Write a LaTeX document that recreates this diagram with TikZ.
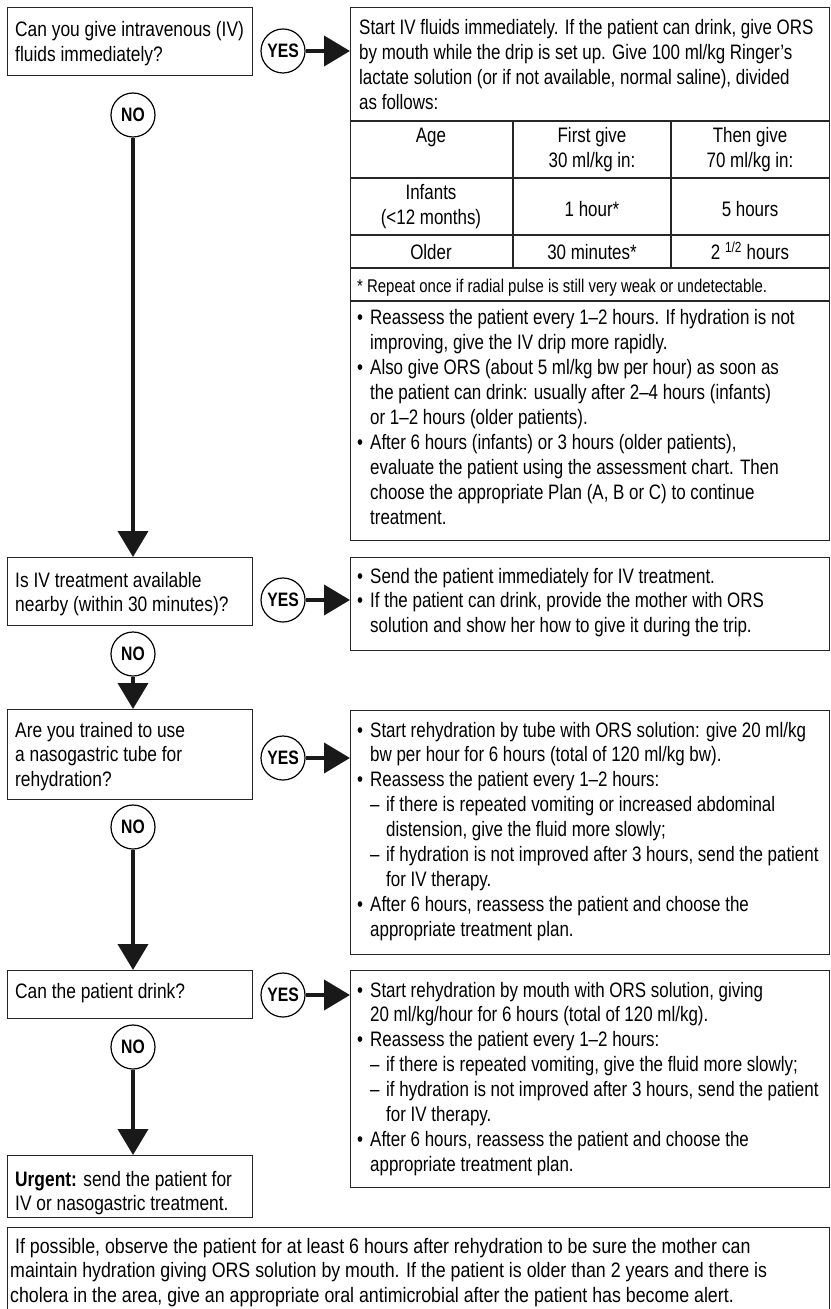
\documentclass[tikz,border=0pt]{standalone}
\usepackage{fontspec}
\setmainfont{Liberation Sans}[FakeStretch=0.81]
\newfontfamily\widefnt{Liberation Sans}[FakeStretch=0.85]
\newfontfamily\leftfnt{Liberation Sans}[FakeStretch=0.83]
\usetikzlibrary{arrows.meta}
\newcommand\mainfnt{\fontsize{21}{25}\selectfont}
\newcommand\smallfnt{\fontsize{18.5}{22}\selectfont}
\newcommand\ynfnt{\fontsize{19.5}{20}\selectfont\bfseries}
\newcommand\mlines[2][l]{\begin{tabular}[t]{@{}#1@{}}#2\end{tabular}}
\newcommand\mybul{\makebox[13bp][l]{•}}
\newcommand\myind{\hspace*{13bp}}
\newcommand\mydsh{\hspace*{13bp}\makebox[16bp][l]{--}}
\newcommand\mydind{\hspace*{29bp}}
\tikzset{
  box/.style={draw=black!85, line width=1.3bp, inner sep=0pt, anchor=north west},
  txt/.style={inner sep=0pt, anchor=base west, font=\mainfnt},
  wtxt/.style={inner sep=0pt, anchor=base west, font=\widefnt\mainfnt},
  ltxt/.style={inner sep=0pt, anchor=base west, font=\leftfnt\mainfnt},
  ctxt/.style={inner sep=0pt, anchor=base, font=\mainfnt},
  yn/.style={circle, draw=black, line width=1.2bp, minimum size=44bp, inner sep=0pt, font=\ynfnt},
  arr/.style={line width=4bp, draw=black!90, -{Triangle[length=26bp,width=30bp]}},
  rule/.style={draw=black!85, line width=1.3bp},
}
\begin{document}
\begin{tikzpicture}[x=1bp,y=-1bp]
\useasboundingbox (0,0) rectangle (830,1309);
% boxes
\node[box, minimum width=245bp, minimum height=68bp] (q1) at (7,7) {};
\node[box, minimum width=245bp, minimum height=68bp] (q2) at (7,557) {};
\node[box, minimum width=245bp, minimum height=90bp] (q3) at (7,709) {};
\node[box, minimum width=245bp, minimum height=48bp] (q4) at (7,970) {};
\node[box, minimum width=245bp, minimum height=62bp] (u) at (7,1155) {};
\node[box, minimum width=479bp, minimum height=533bp] (a1) at (350,7) {};
\node[box, minimum width=479bp, minimum height=93bp] (a2) at (350,557) {};
\node[box, minimum width=479bp, minimum height=244bp] (a3) at (350,710) {};
\node[box, minimum width=479bp, minimum height=217bp] (a4) at (350,970) {};
\node[box, minimum width=822bp, minimum height=90bp] (fin) at (7,1227) {};
% table rules
\foreach \yy in {121,178,235,268,301} \draw[rule] (350,\yy) -- (829,\yy);
\foreach \xx in {513,671} \draw[rule] (\xx,121) -- (\xx,268);
% circles
\node[yn] (y1) at (283,51) {YES};
\node[yn] (y2) at (283,600) {YES};
\node[yn] (y3) at (283,758) {YES};
\node[yn] (y4) at (283,995) {YES};
\node[yn] (n1) at (133,115) {NO};
\node[yn] (n2) at (133,654) {NO};
\node[yn] (n3) at (133,827) {NO};
\node[yn] (n4) at (133,1047) {NO};
% arrows
\draw[arr] (y1.east) -- (y1.east -| a1.west);
\draw[arr] (y2.east) -- (y2.east -| a2.west);
\draw[arr] (y3.east) -- (y3.east -| a3.west);
\draw[arr] (y4.east) -- (y4.east -| a4.west);
\draw[arr] (n1.south) -- (n1.south |- q2.north);
\draw[arr] (n2.south) -- (n2.south |- q3.north);
\draw[arr] (n3.south) -- (n3.south |- q4.north);
\draw[arr] (n4.south) -- (n4.south |- u.north);
% left texts
\node[ltxt] (q1t) at (15,37) {\mlines{Can you give intravenous (IV)\\fluids immediately?}};
\node[ltxt] (q2t) at (15,587) {\mlines{Is IV treatment available\\nearby (within 30 minutes)?}};
\node[ltxt] (q3t) at (15,737) {\mlines{Are you trained to use\\a nasogastric tube for\\rehydration?}};
\node[ltxt] (q4t) at (15,998) {Can the patient drink?};
\node[ltxt] (ut) at (15,1186) {\mlines{\textbf{Urgent:} send the patient for\\IV or nasogastric treatment.}};
% right box 1
\node[txt] (a1t) at (359,35) {\mlines{Start IV fluids immediately. If the patient can drink, give ORS\\by mouth while the drip is set up. Give 100 ml/kg Ringer's\\lactate solution (or if not available, normal saline), divided\\as follows:}};
\node[ctxt] (h1) at (431,143) {Age};
\node[ctxt] (h2) at (592,143) {\mlines[c]{First give\\30 ml/kg in:}};
\node[ctxt] (h3) at (750,143) {\mlines[c]{Then give\\70 ml/kg in:}};
\node[ctxt] (r1a) at (431,200) {\mlines[c]{Infants\\(<12 months)}};
\node[ctxt] (r1b) at (592,217) {1 hour*};
\node[ctxt] (r1c) at (750,217) {5 hours};
\node[ctxt] (r2a) at (431,260) {Older};
\node[ctxt] (r2b) at (592,260) {30 minutes*};
\node[ctxt] (r2c) at (750,260) {2 \textsuperscript{1/2} hours};
\node[txt, font=\smallfnt] (fn) at (357,293) {* Repeat once if radial pulse is still very weak or undetectable.};
\node[txt] (a1b) at (357,325) {\mlines{\mybul Reassess the patient every 1--2 hours. If hydration is not\\
\myind improving, give the IV drip more rapidly.\\
\mybul Also give ORS (about 5 ml/kg bw per hour) as soon as\\
\myind the patient can drink: usually after 2--4 hours (infants)\\
\myind or 1--2 hours (older patients).\\
\mybul After 6 hours (infants) or 3 hours (older patients),\\
\myind evaluate the patient using the assessment chart. Then\\
\myind choose the appropriate Plan (A, B or C) to continue\\
\myind treatment.}};
% right box 2
\node[txt] (a2t) at (357,583) {\mlines{\mybul Send the patient immediately for IV treatment.\\
\mybul If the patient can drink, provide the mother with ORS\\
\myind solution and show her how to give it during the trip.}};
% right box 3
\node[txt] (a3t) at (357,737) {\mlines{\mybul Start rehydration by tube with ORS solution: give 20 ml/kg\\
\myind bw per hour for 6 hours (total of 120 ml/kg bw).\\
\mybul Reassess the patient every 1--2 hours:\\
\mydsh if there is repeated vomiting or increased abdominal\\
\mydind distension, give the fluid more slowly;\\
\mydsh if hydration is not improved after 3 hours, send the patient\\
\mydind for IV therapy.\\
\mybul After 6 hours, reassess the patient and choose the\\
\myind appropriate treatment plan.}};
% right box 4
\node[txt] (a4t) at (357,997) {\mlines{\mybul Start rehydration by mouth with ORS solution, giving\\
\myind 20 ml/kg/hour for 6 hours (total of 120 ml/kg).\\
\mybul Reassess the patient every 1--2 hours:\\
\mydsh if there is repeated vomiting, give the fluid more slowly;\\
\mydsh if hydration is not improved after 3 hours, send the patient\\
\mydind for IV therapy.\\
\mybul After 6 hours, reassess the patient and choose the\\
\myind appropriate treatment plan.}};
% final box
\node[wtxt] (fint) at (10,1253) {\mlines{\ If possible, observe the patient for at least 6 hours after rehydration to be sure the mother can\\
maintain hydration giving ORS solution by mouth. If the patient is older than 2 years and there is\\
cholera in the area, give an appropriate oral antimicrobial after the patient has become alert.}};
\end{tikzpicture}
\end{document}
